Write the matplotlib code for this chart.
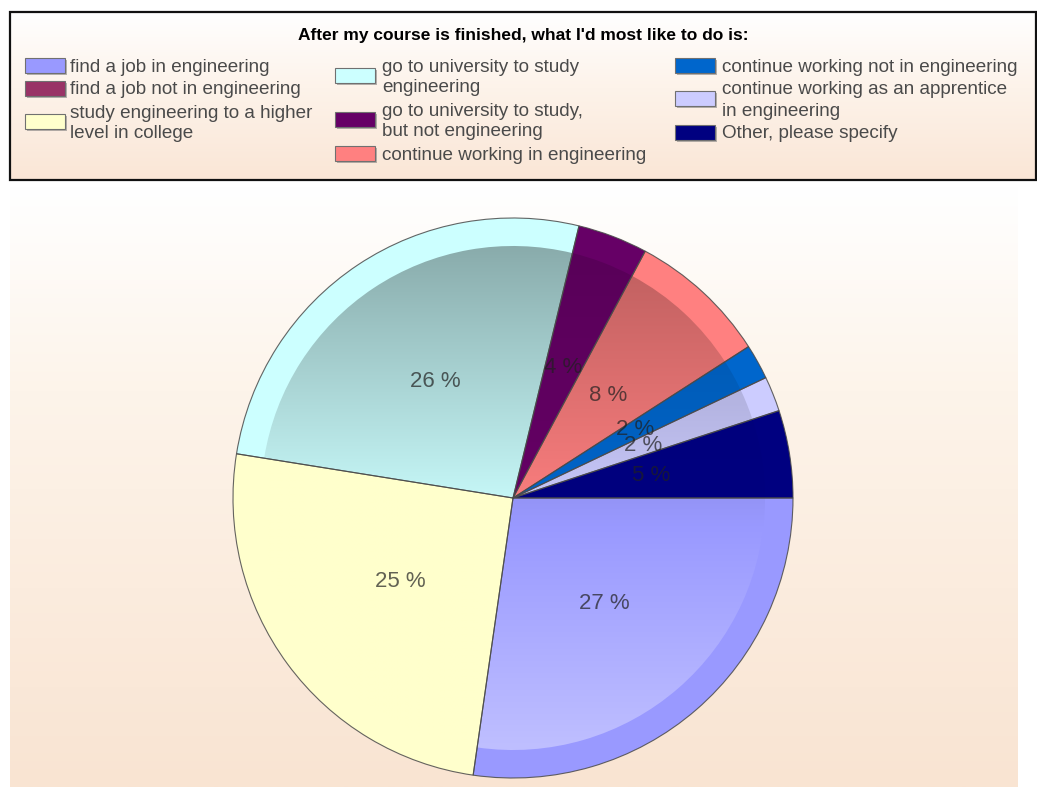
import numpy as np
import matplotlib
matplotlib.use("Agg")
import matplotlib.pyplot as plt
from matplotlib.patches import Rectangle, Wedge
from matplotlib.colors import to_rgb

W, H = 1037, 787
DPI = 100

title = "After my course is finished, what I'd most like to do is:"
categories = [
    "find a job in engineering",
    "find a job not in engineering",
    "study engineering to a higher\nlevel in college",
    "go to university to study\nengineering",
    "go to university to study,\nbut not engineering",
    "continue working in engineering",
    "continue working not in engineering",
    "continue working as an apprentice\nin engineering",
    "Other, please specify",
]
shares = [27, 0, 25, 26, 4, 8, 2, 2, 5]
colors = ["#9999FF", "#993366", "#FFFFCC", "#CCFFFF", "#660066",
          "#FF8080", "#0066CC", "#CCCCFF", "#000080"]
# how strongly the inner lighting tints each slice
shade_strength = [1.0, 1.0, 0.0, 1.0, 0.4, 0.8, 0.5, 0.8, 0.2]

plt.rcParams["font.family"] = ["Liberation Sans", "DejaVu Sans"]

fig = plt.figure(figsize=(W / DPI, H / DPI), dpi=DPI)
fig.patch.set_facecolor("white")

# ---- background layer in pixel coordinates ----
bg = fig.add_axes([0, 0, 1, 1], zorder=0)
bg.set_xlim(0, W)
bg.set_ylim(H, 0)
bg.axis("off")


def vertical_gradient(stops, n=256):
    pos = np.array([s[0] for s in stops])
    cols = np.array([to_rgb(s[1]) for s in stops])
    t = np.linspace(0, 1, n)
    img = np.stack([np.interp(t, pos, cols[:, k]) for k in range(3)], axis=1)
    return img[:, None, :]


# plot area wash
bg.imshow(vertical_gradient([(0.0, "#ffffff"), (0.34, "#fdf4ea"), (1.0, "#f9e4d2")]),
          extent=(10, 1018, 787, 186), aspect="auto", interpolation="bilinear", zorder=0)
# legend panel wash
bg.imshow(vertical_gradient([(0.0, "#ffffff"), (0.45, "#fdf3ea"), (1.0, "#fae6d6")]),
          extent=(10, 1036, 180, 12), aspect="auto", interpolation="bilinear", zorder=0)
bg.add_patch(Rectangle((10, 12), 1026, 168, fill=False, edgecolor="#111111",
                       linewidth=1.6, zorder=2))

# ---- legend ----
bg.text(523, 34, title, ha="center", va="center_baseline", fontsize=12.5,
        fontweight="bold", color="#000000", zorder=3)

swatch_x = [25, 335, 675]
text_x = [70, 382, 722]
first_line_y = 65
line_pitch = 21
entry_gap = 2
cursor = [first_line_y] * 3
for i, (label, col) in enumerate(zip(categories, colors)):
    c = i // 3
    lines = label.split("\n")
    y0 = cursor[c]
    for k, line in enumerate(lines):
        bg.text(text_x[c], y0 + k * line_pitch, line, ha="left", va="center_baseline",
                fontsize=13.6, color="#4a4a4a", zorder=3)
    yc = y0 + (len(lines) - 1) * line_pitch / 2
    bg.add_patch(Rectangle((swatch_x[c] + 2, yc - 7.5 + 2), 40, 15, facecolor="#7a7a7a",
                           edgecolor="none", alpha=0.55, zorder=3))
    bg.add_patch(Rectangle((swatch_x[c], yc - 7.5), 40, 15, facecolor=col,
                           edgecolor="#707070", linewidth=0.8, zorder=4))
    cursor[c] = y0 + len(lines) * line_pitch + entry_gap

# ---- pie ----
cx, cy, R = 513, 498, 280
ax = fig.add_axes([(cx - R) / W, (H - cy - R) / H, 2 * R / W, 2 * R / H], zorder=1)
ax.set_facecolor("none")


def pct_label(p):
    return f"{p:.0f} %" if p > 0.5 else ""


wedges, _, autotexts = ax.pie(
    shares, colors=colors, startangle=0, counterclock=False, radius=1.0,
    autopct=pct_label, pctdistance=0.5,
    wedgeprops=dict(edgecolor="none", linewidth=0),
    textprops=dict(fontsize=16, color="#202020"))
ax.set_xlim(-1, 1)
ax.set_ylim(-1, 1)
ax.set_aspect("equal")
ax.axis("off")

# lighting: darker towards the top, paler towards the bottom, inside the rim
n = 400
yy = np.linspace(-1, 1, n)
t = (1 - yy) / 2
dark = 1 - 0.36 * (1 - np.clip(t / 0.55, 0, 1))
light = 0.42 * np.clip((t - 0.55) / 0.45, 0, 1)
for w, col, s in zip(wedges, colors, shade_strength):
    w.set_clip_on(False)
    if w.theta2 - w.theta1 < 1e-6:
        continue
    base = np.array(to_rgb(col))
    d = 1 - s * (1 - dark)
    rows = base[None, :] * d[:, None]
    rows = rows + (1 - rows) * (s * light)[:, None]
    img = np.repeat(rows[:, None, :], 2, axis=1)
    im = ax.imshow(img, extent=(-1, 1, -1, 1), origin="lower", aspect="auto",
                   interpolation="bilinear", zorder=2)
    inner = Wedge(w.center, 0.9 * w.r, w.theta1, w.theta2, transform=ax.transData)
    im.set_clip_path(inner)
    ax.add_patch(Wedge(w.center, w.r, w.theta1, w.theta2, facecolor="none",
                       edgecolor="#4a4a4a", linewidth=0.8, alpha=0.85, zorder=3,
                       clip_on=False))

for txt in autotexts:
    txt.set_alpha(0.7)
    txt.set_zorder(5)

fig.savefig("out.png", dpi=DPI)
